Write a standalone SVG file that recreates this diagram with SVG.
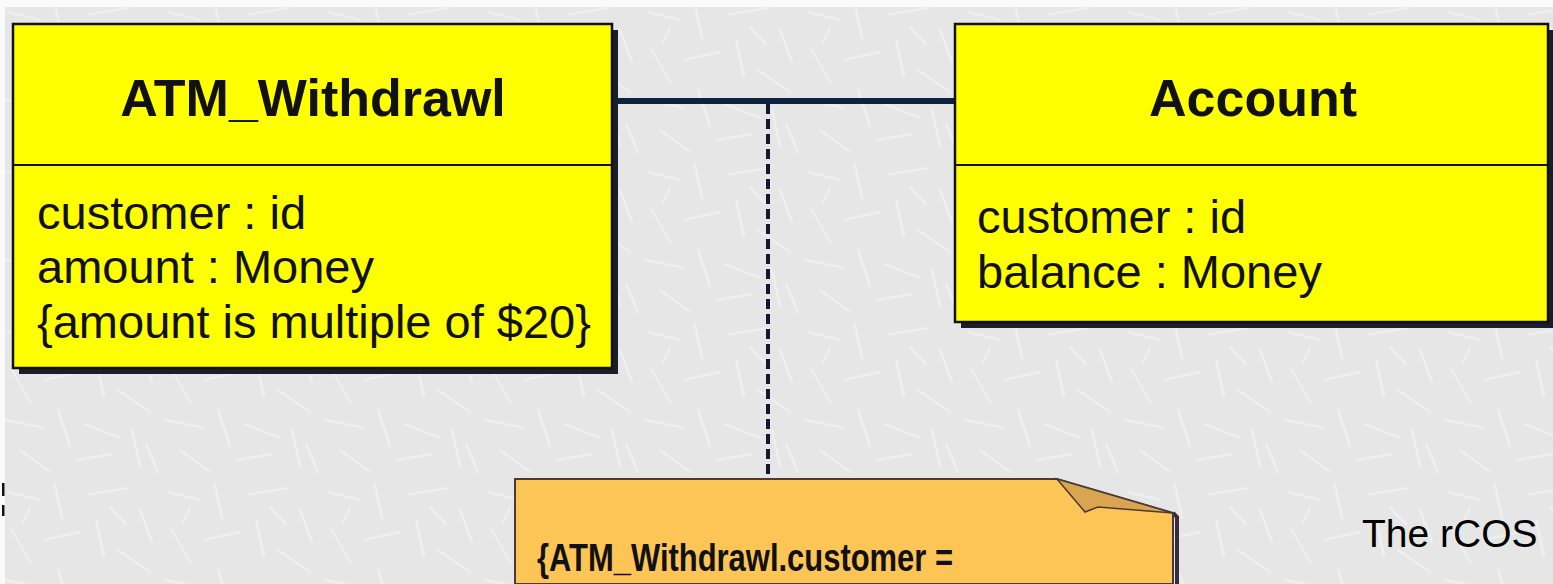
<svg xmlns="http://www.w3.org/2000/svg" width="1553" height="584" viewBox="0 0 1553 584">
  <style>
    .title { font-family: "Liberation Sans", Arial, sans-serif; font-weight: bold; font-size: 52px; fill: #111; text-anchor: middle; }
    .attr { font-family: "Liberation Sans", Arial, sans-serif; font-size: 47px; fill: #111; }
    .note-text { font-family: "Liberation Sans", Arial, sans-serif; font-weight: bold; font-size: 38px; fill: #111; }
    .caption { font-family: "Liberation Sans", Arial, sans-serif; font-size: 39px; fill: #000; }
    .cls { fill: #ffff00; stroke: #111; stroke-width: 2.5; }
    .shadow { fill: #1c1c2c; }
    .divider { stroke: #111; stroke-width: 2; }
    .assoc { stroke: #0f2340; stroke-width: 6; fill: none; }
    .anchor { stroke: #0f1a30; stroke-width: 4; stroke-dasharray: 10 5; fill: none; }
  </style>
  <defs>
    <!-- light scratchy paper texture -->
    <pattern id="paper" width="160" height="160" patternUnits="userSpaceOnUse">
      <rect width="160" height="160" fill="#e6e6e6"/>
      <g stroke="#efefef" stroke-width="2.5" stroke-linecap="round" fill="none">
        <path d="M8 12 L40 20"/>
        <path d="M55 5 L62 38"/>
        <path d="M90 14 L128 8"/>
        <path d="M140 30 L152 62"/>
        <path d="M12 50 L30 82"/>
        <path d="M44 60 L80 52"/>
        <path d="M96 40 L104 76"/>
        <path d="M118 70 L150 92"/>
        <path d="M6 100 L44 108"/>
        <path d="M58 90 L70 126"/>
        <path d="M84 104 L120 118"/>
        <path d="M132 110 L140 146"/>
        <path d="M20 130 L50 152"/>
        <path d="M78 140 L112 134"/>
        <path d="M146 124 L158 152"/>
        <path d="M30 28 L22 44"/>
        <path d="M110 28 L126 44"/>
      </g>
    </pattern>
  </defs>

  <!-- background -->
  <rect x="0" y="0" width="1553" height="584" fill="url(#paper)"/>
  <rect x="0" y="0" width="1553" height="7" fill="#fafafa"/>
  <rect x="0" y="0" width="5" height="584" fill="#fafafa"/>

  <!-- connectors -->
  <g id="connectors">
    <line class="assoc" x1="612" y1="101" x2="956" y2="101"/>
    <line class="anchor" x1="768" y1="104" x2="768" y2="479"/>
  </g>

  <!-- class ATM_Withdrawl -->
  <g id="atm-withdrawl">
    <rect class="shadow" x="19" y="30" width="599" height="344"/>
    <rect class="cls" x="13" y="24" width="599" height="344"/>
    <line class="divider" x1="13" y1="165" x2="612" y2="165"/>
    <text class="title" x="313" y="116">ATM_Withdrawl</text>
    <text class="attr" x="37" y="229">customer : id</text>
    <text class="attr" x="37" y="283">amount : Money</text>
    <text class="attr" x="37" y="338">{amount is multiple of $20}</text>
  </g>

  <!-- class Account -->
  <g id="account">
    <rect class="shadow" x="961" y="30" width="593" height="298"/>
    <rect class="cls" x="955" y="24" width="593" height="298"/>
    <line class="divider" x1="955" y1="165" x2="1548" y2="165"/>
    <text class="title" x="1253" y="116">Account</text>
    <text class="attr" x="977" y="233">customer : id</text>
    <text class="attr" x="977" y="288">balance : Money</text>
  </g>

  <!-- constraint note -->
  <g id="constraint-note">
    <path d="M1173 513 L1177 517 L1177 584" stroke="#3a2a3a" stroke-width="4" fill="none"/>
    <path d="M515 479 H1057 L1173 513 V584 H515 Z" fill="#fdc456" stroke="#4a3a3a" stroke-width="2"/>
    <path d="M1057 479 L1085 512 L1098 507 L1173 513 Z" fill="#d9a550" stroke="#4a3a3a" stroke-width="1.5"/>
    <text class="note-text" x="537" y="571" textLength="416" lengthAdjust="spacingAndGlyphs">{ATM_Withdrawl.customer =</text>
  </g>

  <!-- edge marks and caption -->
  <g id="margin-marks">
    <rect x="2" y="483" width="2.5" height="13" fill="#111"/>
    <rect x="2" y="505" width="2.5" height="11" fill="#111"/>
  </g>
  <text class="caption" x="1362" y="547">The rCOS</text>
</svg>
